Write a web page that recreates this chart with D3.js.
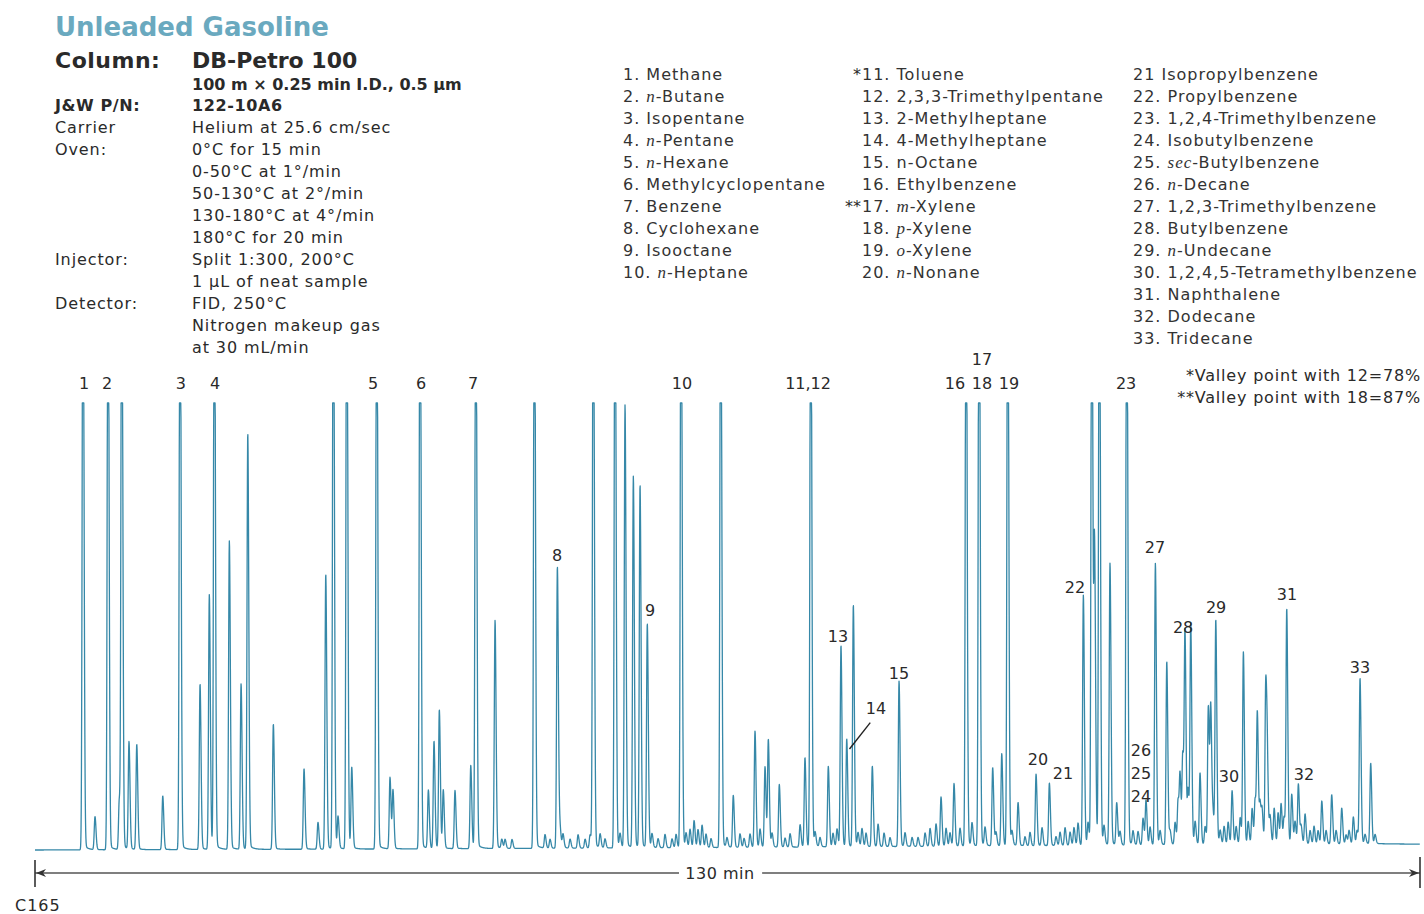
<!DOCTYPE html>
<html><head><meta charset="utf-8">
<script src="https://cdn.jsdelivr.net/npm/d3@7"></script>
<style>
body{margin:0;background:#fff}
svg{display:block}
text{font-family:"DejaVu Sans",sans-serif;fill:#2a2a2a}
</style>
</head><body>
<svg id="c" width="1424" height="914"></svg>
<script>
// ---------------- DATA ----------------
// Major peaks: retention time (min) and height (% of full scale; >100 = off scale)
const peakTimes = [4.50,5.63,6.85,7.91,8.14,8.82,9.55,11.99,13.61,15.49,16.36,16.83,18.24,19.34,19.97,22.37,
  25.25,26.56,27.29,28.00,28.44,29.26,29.73,32.07,33.32,33.60,36.14,36.92,37.45,37.95,38.32,39.42,40.90,41.37,
  43.18,43.81,46.87,49.03,52.40,54.44,55.38,56.16,56.79,57.47,60.64,64.36,65.54,67.58,68.52,68.83,69.86,72.27,
  72.81,74.46,75.65,76.19,76.81,78.59,81.10,85.04,86.26,87.39,88.61,89.89,90.74,91.30,92.27,93.96,95.21,98.40,
  99.19,99.45,99.90,100.90,101.53,102.47,104.28,105.16,106.23,107.73,107.94,108.48,109.35,110.13,110.36,110.83,
  112.36,113.42,114.73,115.52,115.67,117.49,117.96,118.58,119.21,120.78,121.71,122.65,123.74,124.37,125.37];
const peakHeights = [150,7.4,150,11,150,24,23.5,12,150,37,57,150,69,37,93,28,
  18,6,61.5,150,7,150,18,150,16,13,150,13,24,31,13,13,18.6,150,
  51,2,150,63,150,150,99,83,81,50,150,150,11.6,26,18,24,14,20,
  150,18,45,24,54,18,37,11,14,150,160,17.5,20.6,150,9.6,16,14,56,
  150,66,150,63,9.4,150,10,63,41,20,46.5,49,16,31,30,50,
  12,43,29,36,15,52.5,11,13.4,6.7,9.6,11,8,6,37,18];
// Minor peaks ("grass")
const minorTimes = [44.12,44.77,47.87,48.34,49.28,49.56,50.22,50.97,51.63,52.10,53.04,53.50,54.91,57.91,58.48,59.13,59.79,60.17,
  61.11,61.48,61.86,62.23,62.61,62.98,63.45,64.95,66.17,66.55,67.11,68.05,69.18,70.40,70.87,71.81,73.22,73.68,74.90,75.28,
  77.25,77.62,78.00,79.13,79.69,80.25,81.66,82.32,82.88,83.54,84.01,84.57,85.51,85.88,86.82,87.95,89.17,90.20,91.70,92.92,
  93.39,94.52,95.83,96.21,96.68,97.15,97.52,97.90,98.84,100.34,101.84,103.06,103.53,104.00,104.66,105.60,106.54,107.01,
  107.29,107.48,108.23,108.89,109.83,110.58,111.24,111.61,111.99,112.74,113.12,113.87,114.24,114.52,114.99,115.18,115.93,
  116.31,116.68,116.96,117.24,118.27,118.84,119.68,120.05,120.43,121.18,122.12,123.06,123.34,124.09,124.84,125.78];
const minorHeights = [2,2,3,2,4,3,2,3,2,3,3,2,3,3,2,3,2,3,
  3,4,6,4,5,3,2,2,3,2,3,4,3,2,3,5,3,2,3,4,
  3,4,3,5,3,2,3,2,2,3,4,5,4,3,4,5,4,3,3,2,
  3,4,2,3,4,3,4,5,5,4,3,3,3,6,4,3,3,5,
  10,15,12,5,4,6,3,4,5,4,6,5,8,10,9,7,6,
  8,7,9,6,5,4,3,4,3,3,3,2,3,3,2,2];
// Baseline drift (% of full scale)
const baseTimes = [0, 30, 60, 90, 126, 130];
const baseLevels = [0, 0.2, 0.5, 0.9, 1.4, 1.3];

// Peak annotation labels: text, time (min), level (% full scale)
const labelTexts  = ["1","2","3","4","5","6","7","10","11,12","16","18","19","17","23",
  "8","9","13","14","15","20","21","22","26","25","24","27","28","29","30","31","32","33"];
const labelTimes  = [4.60,6.76,13.70,16.90,31.73,36.23,41.11,60.73,72.56,86.35,88.89,91.42,88.89,102.41,
  49.00,57.73,75.37,78.94,81.10,94.14,96.49,97.62,103.81,103.81,103.81,105.13,107.76,110.86,112.07,117.52,119.11,124.37];
const labelLevels = [103.1,103.1,103.1,103.1,103.1,103.1,103.1,103.1,103.1,103.1,103.1,103.1,108.5,103.1,
  64.7,52.3,46.5,30.4,38.3,19.0,15.9,57.5,21.0,15.9,10.7,66.4,48.5,53.0,15.2,55.9,15.7,39.6];

// Header block
const headTitle = "Unleaded Gasoline";
const headKeys = ["J&W P/N:","Carrier","Oven:","","","","","Injector:","","Detector:","",""];
const headVals = ["122-10A6","Helium at 25.6 cm/sec","0°C for 15 min","0-50°C at 1°/min","50-130°C at 2°/min",
  "130-180°C at 4°/min","180°C for 20 min","Split 1:300, 200°C","1 µL of neat sample","FID, 250°C",
  "Nitrogen makeup gas","at 30 mL/min"];

// Compound key: [star, number, italic prefix, name]
const compounds1 = [["","1. ","","Methane"],["","2. ","n","-Butane"],["","3. ","","Isopentane"],["","4. ","n","-Pentane"],
  ["","5. ","n","-Hexane"],["","6. ","","Methylcyclopentane"],["","7. ","","Benzene"],["","8. ","","Cyclohexane"],
  ["","9. ","","Isooctane"],["","10. ","n","-Heptane"]];
const compounds2 = [["*","11. ","","Toluene"],["","12. ","","2,3,3-Trimethylpentane"],["","13. ","","2-Methylheptane"],
  ["","14. ","","4-Methylheptane"],["","15. ","","n-Octane"],["","16. ","","Ethylbenzene"],["**","17. ","m","-Xylene"],
  ["","18. ","p","-Xylene"],["","19. ","o","-Xylene"],["","20. ","n","-Nonane"]];
const compounds3 = [["","21 ","","Isopropylbenzene"],["","22. ","","Propylbenzene"],["","23. ","","1,2,4-Trimethylbenzene"],
  ["","24. ","","Isobutylbenzene"],["","25. ","sec","-Butylbenzene"],["","26. ","n","-Decane"],
  ["","27. ","","1,2,3-Trimethylbenzene"],["","28. ","","Butylbenzene"],["","29. ","n","-Undecane"],
  ["","30. ","","1,2,4,5-Tetramethylbenzene"],["","31. ","","Naphthalene"],["","32. ","","Dodecane"],["","33. ","","Tridecane"]];
const footnotes = ["*Valley point with 12=78%","**Valley point with 18=87%"];
const runTime = 130;

// ---------------- DRAW ----------------
const svg = d3.select("#c");
const x = d3.scaleLinear().domain([0, runTime]).range([35, 1420]);
const y = d3.scaleLinear().domain([0, 100]).range([850, 403]).clamp(true);
const yFree = y.copy().clamp(false);
const base = d3.scaleLinear().domain(baseTimes).range(baseLevels);

const sL = 0.068, sR = 0.095, tailTau = 0.35, tailFrac = 0.014;
const allT = peakTimes.concat(minorTimes), allH = peakHeights.concat(minorHeights);
function signal(t){
  let s = base(t);
  for(let i=0;i<allT.length;i++){
    const d = t-allT[i];
    if(d < -1 || d > 3) continue;
    const sg = d<0 ? sL : sR;
    s += allH[i]*Math.exp(-d*d/(2*sg*sg));
    if(d>0) s += Math.min(allH[i],100)*tailFrac*(1-Math.exp(-d/0.05))*Math.exp(-d/tailTau);
  }
  return s;
}
const samples = d3.range(0, runTime, 0.02).map(t => [t, signal(t)]);
svg.append("path").datum(samples)
  .attr("d", d3.line().x(d=>x(d[0])).y(d=>y(d[1])))
  .attr("fill","none").attr("stroke","#3688a8").attr("stroke-width",1.3).attr("stroke-linejoin","round");

// peak labels
svg.append("g").selectAll("text").data(labelTexts).join("text")
  .attr("x",(d,i)=>x(labelTimes[i])).attr("y",(d,i)=>yFree(labelLevels[i]))
  .attr("text-anchor","middle").attr("font-size",16).text(d=>d);
// pointer for peak 14
svg.append("line").attr("x1",x(78.4)).attr("y1",y(28.5)).attr("x2",x(76.45)).attr("y2",y(22.6))
  .attr("stroke","#222").attr("stroke-width",1.4);

// header
svg.append("text").attr("x",55).attr("y",36).attr("font-size",26).attr("font-weight","bold")
  .style("fill","#6aa9bf").text(headTitle);
svg.append("text").attr("x",55).attr("y",68).attr("font-size",22).attr("font-weight","bold").attr("letter-spacing",0.5).text("Column:");
svg.append("text").attr("x",192).attr("y",68).attr("font-size",22).attr("font-weight","bold").text("DB-Petro 100");
svg.append("text").attr("x",192).attr("y",90).attr("font-size",16).attr("font-weight","bold").text("100 m × 0.25 min I.D., 0.5 µm");
headKeys.forEach((k,i)=>{
  const yy = 111 + 22*i;
  const bold = i===0;
  [[55,k],[192,headVals[i]]].forEach(([xx,s])=>{
    svg.append("text").attr("x",xx).attr("y",yy).attr("font-size",16)
      .attr("font-weight",bold?"bold":"normal").attr("letter-spacing",bold?0.6:0.9).text(s);
  });
});

// compound key
function keyCol(items, x0){
  items.forEach((it,i)=>{
    const yy = 80 + 22*i;
    if(it[0]) svg.append("text").attr("x",x0-1).attr("y",yy).attr("text-anchor","end").attr("font-size",16).text(it[0]);
    const t = svg.append("text").attr("x",x0).attr("y",yy).attr("font-size",16).attr("letter-spacing",1).style("fill","#333");
    t.append("tspan").text(it[1]);
    if(it[2]) t.append("tspan").attr("font-family","Liberation Serif").attr("font-style","italic").attr("font-size",17).text(it[2]);
    t.append("tspan").text(it[3]);
  });
}
keyCol(compounds1, 623);
keyCol(compounds2, 862);
keyCol(compounds3, 1133);

footnotes.forEach((f,i)=>{
  svg.append("text").attr("x",1421).attr("y",381+22*i).attr("text-anchor","end").attr("font-size",16).attr("letter-spacing",0.8).text(f);
});

// time bar
const ay = 873;
svg.append("line").attr("x1",x(0)).attr("x2",x(runTime*0.465)).attr("y1",ay).attr("y2",ay).attr("stroke","#555").attr("stroke-width",1.4);
svg.append("line").attr("x1",x(runTime*0.525)).attr("x2",x(runTime)).attr("y1",ay).attr("y2",ay).attr("stroke","#555").attr("stroke-width",1.4);
svg.append("line").attr("x1",x(0)).attr("x2",x(0)).attr("y1",860).attr("y2",887).attr("stroke","#333").attr("stroke-width",1.6);
svg.append("line").attr("x1",x(runTime)).attr("x2",x(runTime)).attr("y1",857).attr("y2",888).attr("stroke","#333").attr("stroke-width",1.6);
svg.append("path").attr("d",`M${x(0)+1},${ay} l10,-4 l-3,4 l3,4 z`).attr("fill","#333");
svg.append("path").attr("d",`M${x(runTime)-1},${ay} l-10,-4 l3,4 l-3,4 z`).attr("fill","#333");
svg.append("text").attr("x",x(runTime*0.4946)).attr("y",879).attr("text-anchor","middle").attr("font-size",16).attr("letter-spacing",0.5).text(runTime+" min");
svg.append("text").attr("x",15).attr("y",911).attr("font-size",16).attr("letter-spacing",1).text("C165");
</script>
</body></html>
